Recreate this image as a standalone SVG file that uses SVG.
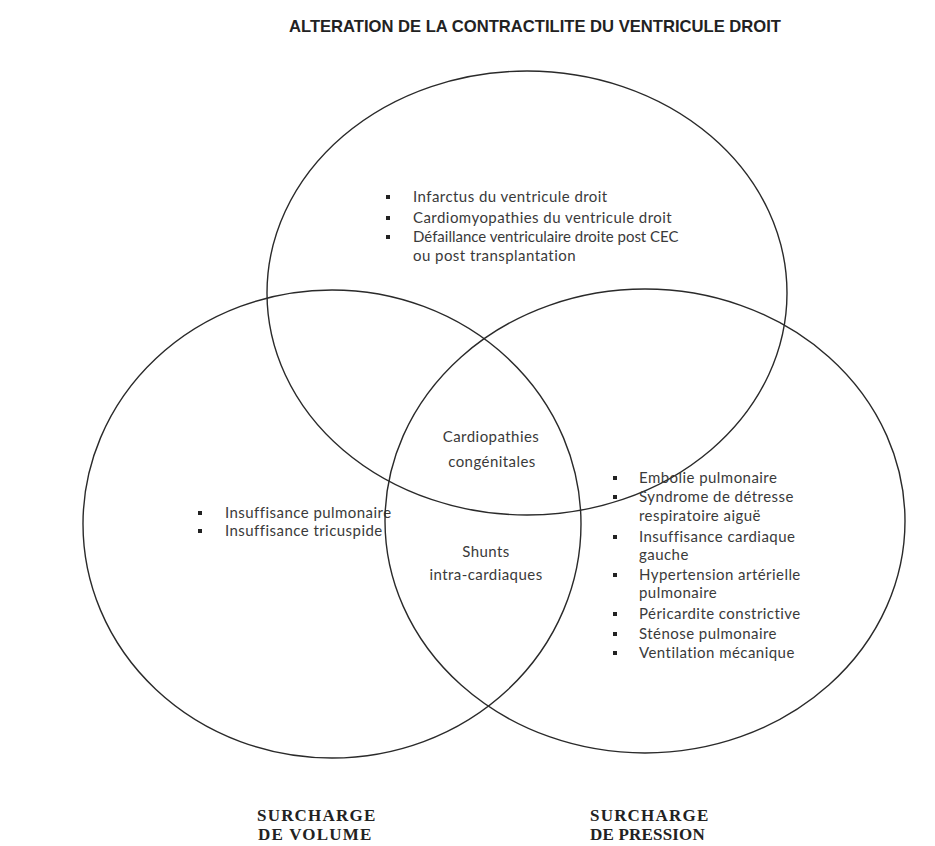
<svg xmlns="http://www.w3.org/2000/svg" width="935" height="846" viewBox="0 0 935 846">
<style>
.c{fill:none;stroke:#2a2a2a;stroke-width:1.4}
.t{font-family:Lato,"Open Sans","Liberation Sans",sans-serif;font-size:15px;fill:#3a3a3a;letter-spacing:0.45px}
.m{text-anchor:middle}
.b{fill:#222}
.ttl{font-family:"Liberation Sans",Arial,sans-serif;font-weight:bold;font-size:16.6px;fill:#222}
.lab{font-family:"Liberation Serif","Times New Roman",serif;font-weight:bold;font-size:17px;fill:#222;letter-spacing:1.2px}
</style>
<rect width="935" height="846" fill="#fff"/>
<text class="ttl" x="289" y="32">ALTERATION DE LA CONTRACTILITE DU VENTRICULE DROIT</text>
<g id="circle-top">
<ellipse class="c" cx="527" cy="293" rx="260" ry="222"/>
<g class="b"><rect x="386" y="195" width="4" height="4"/><rect x="386" y="216" width="4" height="4"/><rect x="386" y="235" width="4" height="4"/></g>
<text class="t" x="413" y="202">Infarctus du ventricule droit</text>
<text class="t" x="413" y="223">Cardiomyopathies du ventricule droit</text>
<text class="t" x="413" y="242" textLength="266">Défaillance ventriculaire droite post CEC</text>
<text class="t" x="413" y="261">ou post transplantation</text>
</g>
<g id="circle-left">
<ellipse class="c" cx="332" cy="524" rx="249" ry="234"/>
<g class="b"><rect x="198" y="511" width="4" height="4"/><rect x="198" y="529" width="4" height="4"/></g>
<text class="t" x="225" y="518">Insuffisance pulmonaire</text>
<text class="t" x="225" y="536">Insuffisance tricuspide</text>
</g>
<g id="circle-right">
<ellipse class="c" cx="645" cy="521" rx="260" ry="232"/>
<g class="b"><rect x="613" y="476" width="4" height="4"/><rect x="613" y="495" width="4" height="4"/><rect x="613" y="535" width="4" height="4"/><rect x="613" y="573" width="4" height="4"/><rect x="613" y="612" width="4" height="4"/><rect x="613" y="632" width="4" height="4"/><rect x="613" y="651" width="4" height="4"/></g>
<text class="t" x="639" y="483">Embolie pulmonaire</text>
<text class="t" x="639" y="502">Syndrome de détresse</text>
<text class="t" x="639" y="521">respiratoire aiguë</text>
<text class="t" x="639" y="542">Insuffisance cardiaque</text>
<text class="t" x="639" y="560">gauche</text>
<text class="t" x="639" y="580">Hypertension artérielle</text>
<text class="t" x="639" y="598">pulmonaire</text>
<text class="t" x="639" y="619">Péricardite constrictive</text>
<text class="t" x="639" y="639">Sténose pulmonaire</text>
<text class="t" x="639" y="658">Ventilation mécanique</text>
</g>
<g id="center">
<text class="t m" x="491" y="442">Cardiopathies</text>
<text class="t m" x="492" y="467">congénitales</text>
<text class="t m" x="486" y="557">Shunts</text>
<text class="t m" x="486" y="580">intra-cardiaques</text>
</g>
<g id="labels">
<text class="lab" x="257" y="821">SURCHARGE</text>
<text class="lab" x="258" y="840">DE VOLUME</text>
<text class="lab" x="590" y="821">SURCHARGE</text>
<text class="lab" x="590" y="840" textLength="116">DE PRESSION</text>
</g>
</svg>
